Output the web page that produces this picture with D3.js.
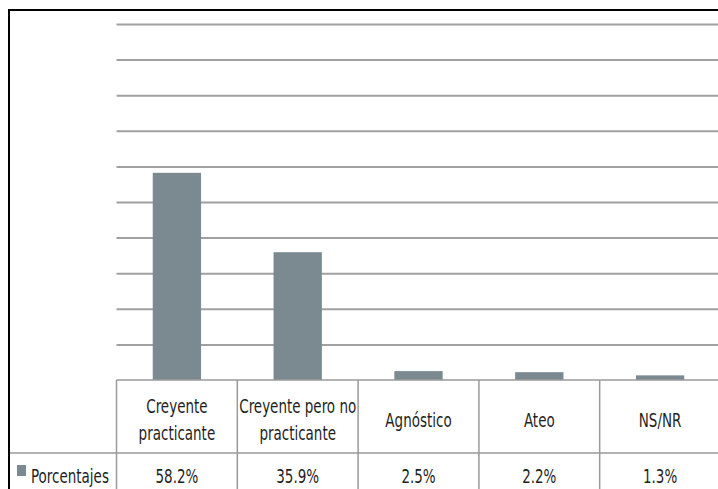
<!DOCTYPE html>
<html>
<head>
<meta charset="utf-8">
<script src="https://cdn.jsdelivr.net/npm/d3@7"></script>
<style>
  html, body { margin: 0; padding: 0; background: #fff; }
  svg { display: block; }
  text { font-family: "DejaVu Sans Condensed", "Liberation Sans Narrow", sans-serif; fill: #1f1f1f; }
</style>
</head>
<body>
<svg id="chart" width="718" height="489"></svg>
<script>
// ---- data ----
const categories = ["Creyente practicante", "Creyente pero no practicante", "Agnóstico", "Ateo", "NS/NR"];
const categoryLines = [["Creyente", "practicante"], ["Creyente pero no", "practicante"], ["Agnóstico"], ["Ateo"], ["NS/NR"]];
const seriesName = "Porcentajes";
const values = [58.2, 35.9, 2.5, 2.2, 1.3];
const valueLabels = ["58.2%", "35.9%", "2.5%", "2.2%", "1.3%"];
const yTicks = [10, 20, 30, 40, 50, 60, 70, 80, 90, 100];

// ---- layout ----
const svg = d3.select("#chart");
const plotLeft = 116.5, plotRight = 720.5;
const plotTop = 24, baseY = 380;
const headerBottom = 453;
const borderX = 9, borderY = 10;
const fontSize = 20, squeeze = 0.75;

const x = d3.scaleBand().domain(categories).range([plotLeft, plotRight]).paddingInner(0.6).paddingOuter(0.3);
const xCell = d3.scaleBand().domain(categories).range([plotLeft, plotRight]).padding(0);
const y = d3.scaleLinear().domain([0, 100]).range([baseY, plotTop]);

const barColor = "#7b8a90";
const gridColor = "#a0a0a0";
const tableColor = "#9a9a9a";

// gridlines
const grid = svg.append("g").attr("transform", `translate(${plotLeft},0)`)
  .call(d3.axisLeft(y).tickValues(yTicks).tickSize(-(plotRight - plotLeft)).tickFormat(""));
grid.select(".domain").remove();
grid.selectAll(".tick line").attr("stroke", gridColor).attr("stroke-width", 2);

// bars
svg.append("g").selectAll("rect").data(values).join("rect")
  .attr("x", (d, i) => x(categories[i]))
  .attr("width", x.bandwidth())
  .attr("y", d => y(d))
  .attr("height", d => y(0) - y(d))
  .attr("fill", barColor);

// data table
const table = svg.append("g").attr("stroke", tableColor).attr("stroke-width", 1.5).attr("fill", "none");
table.append("line").attr("x1", plotLeft).attr("x2", plotRight).attr("y1", baseY).attr("y2", baseY);
table.append("line").attr("x1", borderX).attr("x2", plotRight).attr("y1", headerBottom).attr("y2", headerBottom);
const vx = categories.map(c => xCell(c)).concat([plotRight]);
table.selectAll("line.v").data(vx).join("line").attr("class", "v")
  .attr("x1", d => d).attr("x2", d => d).attr("y1", baseY).attr("y2", 495);

function label(g, tx, ty, str, anchor) {
  g.append("text")
    .attr("transform", `translate(${tx},${ty}) scale(${squeeze},1)`)
    .attr("text-anchor", anchor)
    .attr("font-size", fontSize)
    .text(str);
}

// header labels
const hdr = svg.append("g");
const mid = (baseY + headerBottom) / 2;
const lh = 27;
categoryLines.forEach((lines, i) => {
  const cx = xCell(categories[i]) + xCell.bandwidth() / 2;
  lines.forEach((ln, j) => {
    label(hdr, cx, mid + 10 + (j - (lines.length - 1) / 2) * lh, ln, "middle");
  });
});

// value labels
const vals = svg.append("g");
valueLabels.forEach((v, i) => {
  label(vals, xCell(categories[i]) + xCell.bandwidth() / 2, 483, v, "middle");
});

// legend key + series name
svg.append("rect").attr("x", 17).attr("y", 465).attr("width", 9).attr("height", 11).attr("fill", barColor);
label(svg, 31, 483, seriesName, "start");

// outer border
svg.append("rect").attr("x", borderX).attr("y", borderY).attr("width", 740).attr("height", 500)
  .attr("fill", "none").attr("stroke", "#000").attr("stroke-width", 2);
</script>
</body>
</html>
